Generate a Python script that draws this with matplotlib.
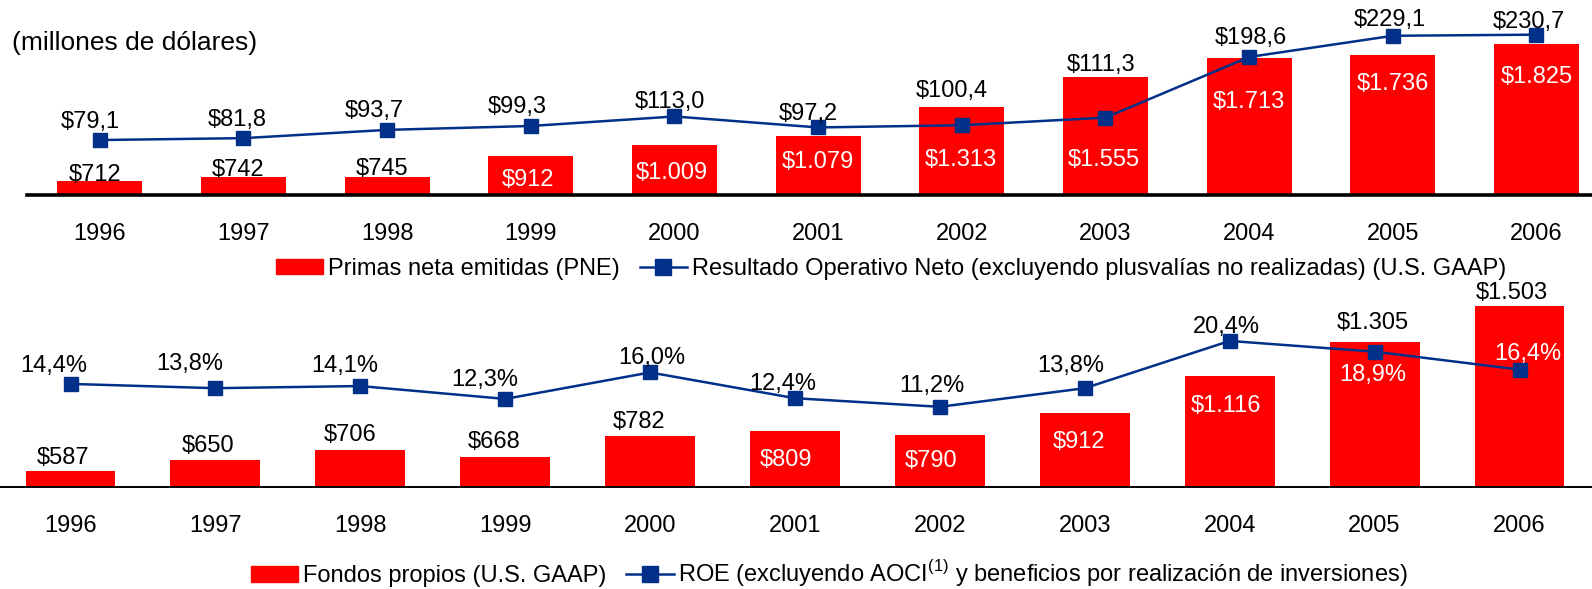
import matplotlib

matplotlib.use("Agg")

import matplotlib.pyplot as plt
from matplotlib.lines import Line2D
from matplotlib.patches import Patch

plt.rcParams["font.family"] = ["Liberation Sans", "DejaVu Sans"]
plt.rcParams["mathtext.fontset"] = "custom"
plt.rcParams["mathtext.rm"] = "Liberation Sans"

years = ["1996", "1997", "1998", "1999", "2000", "2001", "2002", "2003", "2004", "2005", "2006"]
primas = [712, 742, 745, 912, 1009, 1079, 1313, 1555, 1713, 1736, 1825]
resultado = [79.1, 81.8, 93.7, 99.3, 113.0, 97.2, 100.4, 111.3, 198.6, 229.1, 230.7]
fondos = [587, 650, 706, 668, 782, 809, 790, 912, 1116, 1305, 1503]
roe = [14.4, 13.8, 14.1, 12.3, 16.0, 12.4, 11.2, 13.8, 20.4, 18.9, 16.4]

# label placement in pixels relative to bar top / marker (+ = up), colour of text
primas_lab_dx = [-5, -5, -5, -3, -3, 0, -1, -2, 0, 0, 0]
primas_lab_dy = [9, 10, 11, -21, -26, -24, -50, -80, -42, -27, -31]
primas_lab_white = [False, False, False, True, True, True, True, True, True, True, True]
resultado_lab_dx = [-10, -6, -13, -14, -5, -10, -10, -4, 2, -3, -8]
resultado_lab_dy = [21, 21, 21, 21, 17, 16, 37, 55, 21, 18, 15]
fondos_lab_dx = [-7, -7, -10, -11, -11, -9, -9, -6, -4, -2, -8]
fondos_lab_dy = [16, 17, 17, 17, 17, -26, -24, -27, -27, 22, 16]
fondos_lab_white = [False, False, False, False, False, True, True, True, True, False, False]
roe_lab_dx = [-17, -26, -16, -20, 2, -12, -8, -14, -3, -2, 8]
roe_lab_dy = [20, 27, 23, 21, 17, 17, 23, 25, 16, -21, 18]
roe_lab_white = [False] * 9 + [True, True]

RED = "#FF0000"
NAVY = "#003087"
FS = 17
W, H = 1592, 589
CAP = 8.5  # half cap height in px, to centre digits on the measured spot


def fmt_int(v):
    return "$" + f"{v:,}".replace(",", ".")


def fmt_dec(v):
    return "$" + f"{v:.1f}".replace(".", ",")


def fmt_pct(v):
    return f"{v:.1f}%".replace(".", ",")


def draw_panel(fig, rect, xlim, width, bars, bar_ylim, line, line_ylim,
               bar_texts, bar_dx, bar_dy, bar_white,
               line_texts, line_dx, line_dy, line_white, base_lw):
    ax = fig.add_axes(rect)
    x = list(range(len(years)))
    ax.bar(x, bars, width=width, color=RED, zorder=2)
    ax.set_xlim(*xlim)
    ax.set_ylim(*bar_ylim)
    for side in ("top", "left", "right"):
        ax.spines[side].set_visible(False)
    ax.spines["bottom"].set_linewidth(base_lw)
    ax.spines["bottom"].set_color("black")
    ax.spines["bottom"].set_zorder(5)
    ax.set_yticks([])
    ax.set_xticks(x, years)
    ax.tick_params(axis="x", length=0, pad=20.5, labelsize=FS)
    for i, v in enumerate(bars):
        ax.annotate(bar_texts[i], (i, v), xytext=(bar_dx[i], bar_dy[i] - CAP),
                    textcoords="offset pixels", ha="center", va="baseline",
                    fontsize=FS, color="white" if bar_white[i] else "black",
                    annotation_clip=False, zorder=6)

    ax2 = ax.twinx()
    ax2.plot(x, line, color=NAVY, lw=1.8, marker="s", markersize=10,
             markerfacecolor=NAVY, markeredgecolor=NAVY, zorder=3)
    ax2.set_ylim(*line_ylim)
    ax2.set_xlim(*xlim)
    ax2.axis("off")
    for i, v in enumerate(line):
        ax2.annotate(line_texts[i], (i, v), xytext=(line_dx[i], line_dy[i] - CAP),
                     textcoords="offset pixels", ha="center", va="baseline",
                     fontsize=FS, color="white" if line_white[i] else "black",
                     annotation_clip=False, zorder=6)
    return ax


fig = plt.figure(figsize=(W / 100, H / 100), dpi=100)

# top panel: baseline 195 px from top, axes reaches figure top
top_left, top_base = 27, 195
draw_panel(
    fig,
    [top_left / W, 1 - top_base / H, (W - top_left) / W, top_base / H],
    ((top_left - 99.8) / 143.67, (W - 99.8) / 143.67), 0.592,
    primas, (600, 600 + top_base / 0.1234),
    resultado, (0, top_base / 0.695),
    [fmt_int(v) for v in primas], primas_lab_dx, primas_lab_dy, primas_lab_white,
    [fmt_dec(v) for v in resultado], resultado_lab_dx, resultado_lab_dy,
    [False] * len(resultado), 2.6,
)

# bottom panel: baseline 487 px from top
bot_base, bot_h = 487, 197
draw_panel(
    fig,
    [0, 1 - bot_base / H, 1, bot_h / H],
    (-70.5 / 144.9, (W - 70.5) / 144.9), 0.621,
    fondos, (500, 500 + bot_h / 0.18),
    roe, (0, bot_h / 7.16),
    [fmt_int(v) for v in fondos], fondos_lab_dx, fondos_lab_dy, fondos_lab_white,
    [fmt_pct(v) for v in roe], roe_lab_dx, roe_lab_dy, roe_lab_white, 1.4,
)

fig.text(12 / W, 1 - (40.6 + 9.5) / H, "(millones de dólares)", fontsize=19,
         va="baseline", ha="left")

legend_kw = dict(loc="center left", frameon=False, borderpad=0, borderaxespad=0,
                 ncol=2, fontsize=FS, handlelength=2.0, handleheight=0.61,
                 handletextpad=0.2, columnspacing=0.85)
line_handle = Line2D([], [], color=NAVY, lw=1.8, marker="s", markersize=11.5)
fig.legend([Patch(color=RED), line_handle],
           ["Primas neta emitidas (PNE)",
            "Resultado Operativo Neto (excluyendo plusvalías no realizadas) (U.S. GAAP)"],
           bbox_to_anchor=(276 / W, 1 - 268.5 / H), **legend_kw)
fig.legend([Patch(color=RED), line_handle],
           ["Fondos propios (U.S. GAAP)",
            r"ROE (excluyendo AOCI$^{\mathrm{(1)}}$ y beneficios por realización de inversiones)"],
           bbox_to_anchor=(251 / W, 1 - 574 / H), **legend_kw)

fig.savefig("out.png", dpi=100)
plt.close(fig)
